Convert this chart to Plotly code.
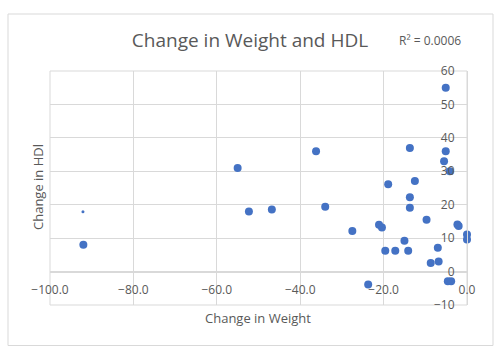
import plotly.graph_objects as go

# Data
weight_change = [-92.0, -55.0, -52.3, -46.8, -36.2, -34.0, -27.5, -23.7, -21.1, -20.4,
                 -19.6, -18.9, -17.2, -15.0, -14.1, -13.7, -13.7, -13.7, -12.5, -9.7,
                 -8.7, -7.0, -6.8, -5.5, -5.1, -5.1, -4.1, -4.6, -3.8, -2.3, -2.0, 0.0, 0.0]
hdl_change = [8.0, 31.0, 18.0, 18.6, 36.0, 19.4, 12.1, -3.9, 14.0, 13.2,
              6.2, 26.1, 6.2, 9.2, 6.2, 37.0, 22.2, 19.1, 27.1, 15.5,
              2.6, 7.1, 3.0, 33.0, 36.0, 55.0, 30.0, -2.9, -2.9, 14.1, 13.6, 11.1, 9.6]
small_x = [-92.1]
small_y = [17.9]

x_ticks = [-100, -80, -60, -40, -20, 0]
y_ticks = [-10, 0, 10, 20, 30, 40, 50, 60]

blue = "#4472C4"
grey = "#D9D9D9"
text_col = "#595959"
font = "Open Sans"

fig = go.Figure()
fig.add_trace(go.Scatter(x=weight_change, y=hdl_change, mode="markers",
                         marker=dict(color=blue, size=8), cliponaxis=False,
                         showlegend=False))
fig.add_trace(go.Scatter(x=small_x, y=small_y, mode="markers",
                         marker=dict(color=blue, size=3), cliponaxis=False,
                         showlegend=False))

y0_frac = (0 - (-10)) / 70.0

fig.update_layout(
    width=500, height=356,
    margin=dict(l=50, r=33, t=71, b=51, autoexpand=False),
    paper_bgcolor="white", plot_bgcolor="white",
    font=dict(family=font, color=text_col, size=11),
    title=dict(text="Change in Weight and HDL", x=0.5, xanchor="center",
               y=1 - 40 / 356, yanchor="middle",
               font=dict(family=font, size=19, color=text_col)),
    xaxis=dict(range=[-100, 0], tickvals=x_ticks, tickformat=".1f",
               showgrid=True, gridcolor=grey, gridwidth=1, zeroline=False,
               anchor="free", position=y0_frac, side="bottom", automargin=False,
               showline=True, linecolor=grey, ticks="outside", ticklen=7,
               tickcolor="rgba(0,0,0,0)",
               tickfont=dict(family=font, size=12, color=text_col)),
    yaxis=dict(range=[-10, 60], tickvals=y_ticks, automargin=False,
               showgrid=True, gridcolor=grey, gridwidth=1, zeroline=False,
               anchor="free", position=1.0, side="left",
               showline=True, linecolor=grey, ticks="outside", ticklen=10,
               tickcolor="rgba(0,0,0,0)",
               tickfont=dict(family=font, size=12, color=text_col)),
    shapes=[
        dict(type="rect", xref="paper", yref="paper", x0=0, x1=1, y0=0, y1=1,
             line=dict(color=grey, width=1), layer="below"),
        dict(type="rect", xref="paper", yref="paper",
             x0=(8 - 50) / 417, x1=(493 - 50) / 417,
             y0=(305 - 345.5) / 234, y1=(305 - 14) / 234,
             line=dict(color=grey, width=1), layer="below"),
    ],
    annotations=[
        dict(text="R² = 0.0006", xref="paper", yref="paper",
             x=(430 - 50) / 417, y=(305 - 40) / 234, xanchor="center", yanchor="middle",
             showarrow=False, font=dict(family=font, size=12, color=text_col)),
        dict(text="Change in Weight", xref="paper", yref="paper",
             x=(258 - 50) / 417, y=(305 - 318) / 234, xanchor="center", yanchor="middle",
             showarrow=False, font=dict(family=font, size=13, color=text_col)),
        dict(text="Change in HDl", xref="paper", yref="paper", textangle=-90,
             x=(38 - 50) / 417, y=(305 - 187) / 234, xanchor="center", yanchor="middle",
             showarrow=False, font=dict(family=font, size=13, color=text_col)),
    ],
)

fig.write_html("out.html", config={"displayModeBar": False},
               post_script="document.body.style.margin='0px';document.body.style.overflow='hidden';")
